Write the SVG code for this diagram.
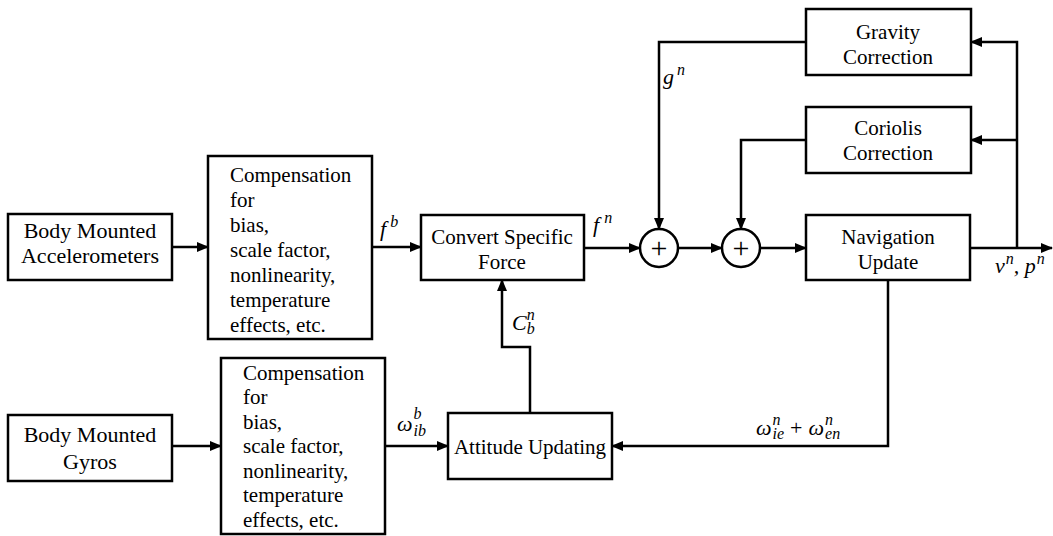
<svg xmlns="http://www.w3.org/2000/svg" width="1053" height="536" viewBox="0 0 1053 536">
<style>
.box{fill:#fff;stroke:#000;stroke-width:2.5}
.t{font-family:'Liberation Serif','DejaVu Serif',serif;font-size:21px;fill:#000}
.b{font-size:22px}
.p{font-size:30px}
.tc{text-anchor:middle}
.m{font-family:'Liberation Serif','DejaVu Serif',serif;font-style:italic;font-size:22px;fill:#000}
.s{font-size:16px}
.c{fill:none;stroke:#000;stroke-width:2.5}
</style>
<defs>
<marker id="ah" markerUnits="userSpaceOnUse" markerWidth="12" markerHeight="10" refX="11" refY="5" orient="auto">
<path d="M0,0 L12,5 L0,10 z" fill="#000"/>
</marker>
</defs>
<rect width="1053" height="536" fill="#fff"/>
<g id="connectors">
<path class="c" d="M172,247 H208" marker-end="url(#ah)"/>
<path class="c" d="M372,247 H421" marker-end="url(#ah)"/>
<path class="c" d="M584,248 H640" marker-end="url(#ah)"/>
<path class="c" d="M678,248 H722" marker-end="url(#ah)"/>
<path class="c" d="M760,248 H806" marker-end="url(#ah)"/>
<path class="c" d="M970,248 H1052" marker-end="url(#ah)"/>
<path class="c" d="M1017,248 V42 H971" marker-end="url(#ah)"/>
<path class="c" d="M1017,140 H971" marker-end="url(#ah)"/>
<path class="c" d="M806,42 H659 V229" marker-end="url(#ah)"/>
<path class="c" d="M806,140 H741 V229" marker-end="url(#ah)"/>
<path class="c" d="M530,413 V347 H502 V280" marker-end="url(#ah)"/>
<path class="c" d="M888,280 V446 H612" marker-end="url(#ah)"/>
<path class="c" d="M172,446 H221" marker-end="url(#ah)"/>
<path class="c" d="M385,446 H448" marker-end="url(#ah)"/>
<text class="m" x="380" y="236">f<tspan class="s" dx="4" dy="-9">b</tspan></text>
<text class="m" x="593" y="232">f<tspan class="s" dx="5" dy="-9">n</tspan></text>
<text class="m" x="663" y="84">g<tspan class="s" dx="3" dy="-9">n</tspan></text>
<text class="m" x="512" y="330">C<tspan class="s" dx="0" dy="-10">n</tspan><tspan class="s" dx="-8" dy="14">b</tspan></text>
<text class="m" x="397" y="431">ω<tspan class="s" dx="1" dy="-12">b</tspan><tspan class="s" dx="-8" dy="17">ib</tspan></text>
<text class="m" x="756" y="435">ω<tspan class="s" dx="1" dy="-10">n</tspan><tspan class="s" dx="-8" dy="14">ie</tspan><tspan dx="6" dy="-4" font-style="normal">+</tspan><tspan dx="6">ω</tspan><tspan class="s" dx="1" dy="-10">n</tspan><tspan class="s" dx="-8" dy="14">en</tspan></text>
<text class="m" x="995" y="273">v<tspan class="s" dx="1" dy="-9">n</tspan><tspan dy="9">, p</tspan><tspan class="s" dx="1" dy="-9">n</tspan></text>
</g>
<g id="accel">
<rect class="box" x="8" y="214" width="164" height="66"/>
<text class="t b tc" x="90" y="238">Body Mounted</text>
<text class="t b tc" x="90" y="263">Accelerometers</text>
</g>
<g id="comp1">
<rect class="box" x="208" y="156" width="164" height="183"/>
<text class="t" x="230" y="182">Compensation</text>
<text class="t" x="230" y="207">for</text>
<text class="t" x="230" y="232">bias,</text>
<text class="t" x="230" y="257">scale factor,</text>
<text class="t" x="230" y="282">nonlinearity,</text>
<text class="t" x="230" y="307">temperature</text>
<text class="t" x="230" y="332">effects, etc.</text>
</g>
<g id="convert">
<rect class="box" x="421" y="215" width="163" height="65"/>
<text class="t tc" x="502" y="244">Convert Specific</text>
<text class="t tc" x="502" y="269">Force</text>
</g>
<g id="sum1">
<circle class="box" cx="659" cy="248" r="19"/>
<text class="t p tc" x="659" y="258">+</text>
</g>
<g id="sum2">
<circle class="box" cx="741" cy="248" r="19"/>
<text class="t p tc" x="741" y="258">+</text>
</g>
<g id="nav">
<rect class="box" x="806" y="215" width="164" height="65"/>
<text class="t tc" x="888" y="244">Navigation</text>
<text class="t tc" x="888" y="269">Update</text>
</g>
<g id="gravity">
<rect class="box" x="806" y="9" width="165" height="66"/>
<text class="t tc" x="888" y="39">Gravity</text>
<text class="t tc" x="888" y="64">Correction</text>
</g>
<g id="coriolis">
<rect class="box" x="806" y="107" width="165" height="66"/>
<text class="t tc" x="888" y="135">Coriolis</text>
<text class="t tc" x="888" y="160">Correction</text>
</g>
<g id="gyros">
<rect class="box" x="8" y="415" width="164" height="66"/>
<text class="t b tc" x="90" y="442">Body Mounted</text>
<text class="t b tc" x="90" y="469">Gyros</text>
</g>
<g id="comp2">
<rect class="box" x="221" y="358" width="164" height="176"/>
<text class="t" x="243" y="380">Compensation</text>
<text class="t" x="243" y="404">for</text>
<text class="t" x="243" y="429">bias,</text>
<text class="t" x="243" y="453">scale factor,</text>
<text class="t" x="243" y="478">nonlinearity,</text>
<text class="t" x="243" y="502">temperature</text>
<text class="t" x="243" y="527">effects, etc.</text>
</g>
<g id="attitude">
<rect class="box" x="448" y="413" width="164" height="66"/>
<text class="t tc" x="530" y="454">Attitude Updating</text>
</g>
</svg>
